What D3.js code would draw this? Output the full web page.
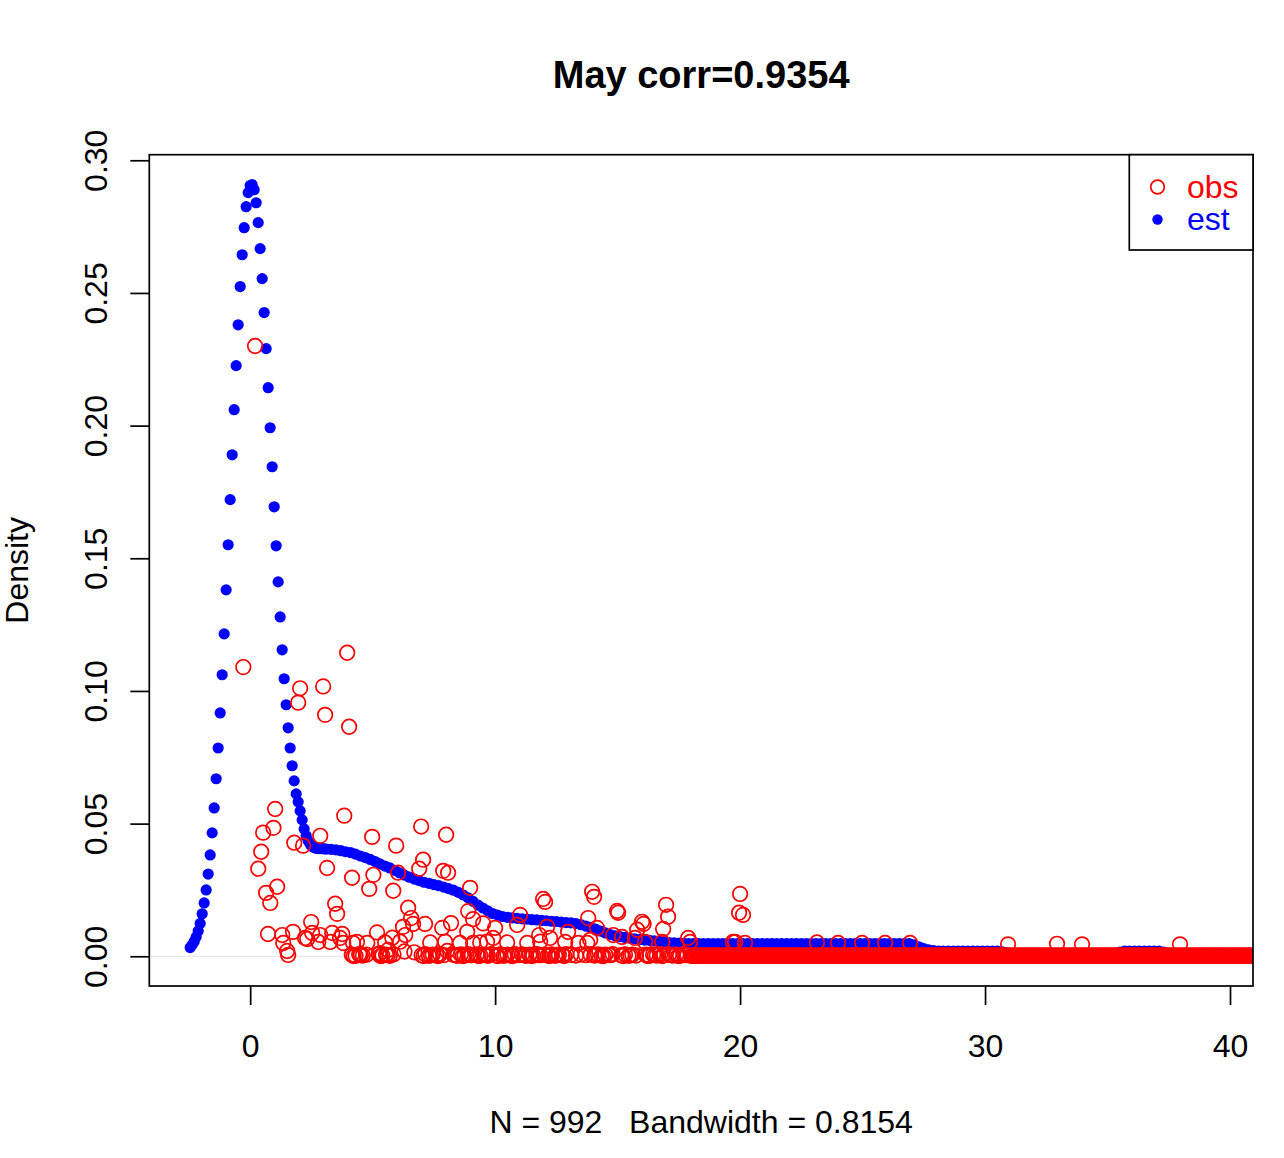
<!DOCTYPE html>
<html><head><meta charset="utf-8">
<script src="https://cdn.jsdelivr.net/npm/d3@7"></script>
<style>
body{margin:0;background:#fff}
svg{display:block}
text{font-family:"Liberation Sans",Arial,Helvetica,sans-serif}
</style>
</head><body>
<svg id="chart" width="1284" height="1158"></svg>
<script>
// ---------- text ----------
const titleText = "May corr=0.9354";
const xLabelText = "N = 992   Bandwidth = 0.8154";
const yLabelText = "Density";
const legendLabels = ["obs", "est"];
const xTicks = [0, 10, 20, 30, 40];
const yTicks = [0, 0.05, 0.10, 0.15, 0.20, 0.25, 0.30];

// ---------- est (density estimate, blue dots) ----------
const estX = [
 -2.449,-2.367,-2.286,-2.204,-2.122,-2.041,-1.959,-1.878,-1.796,-1.714,
 -1.633,-1.551,-1.469,-1.388,-1.306,-1.224,-1.143,-1.061,-0.980,-0.898,
 -0.816,-0.735,-0.653,-0.571,-0.490,-0.408,-0.327,-0.245,-0.163,-0.082,
  0.000, 0.082, 0.163, 0.245, 0.327, 0.408, 0.490, 0.571, 0.653, 0.735,
  0.816, 0.898, 0.980, 1.061, 1.143, 1.224, 1.306, 1.388, 1.469, 1.551,
  1.633, 1.714, 1.796, 1.878, 1.959, 2.041, 2.122, 2.204, 2.286, 2.367,
  2.449, 2.531, 2.612, 2.694, 2.776, 2.857, 2.939, 3.020, 3.102,
  3.3,3.5,3.7,3.9,4.1,4.3,4.5,4.7,4.9,5.1,
  5.3,5.5,5.7,5.9,6.1,6.3,6.5,6.7,6.9,7.1,
  7.3,7.5,7.7,7.9,8.1,8.3,8.5,8.7,8.9,9.1,
  9.3,9.5,9.7,9.9,10.1,10.3,10.5,10.7,10.9,11.1,
  11.3,11.5,11.7,11.9,12.1,12.3,12.5,12.7,12.9,13.1,
  13.3,13.5,13.7,13.9,14.1,14.3,14.5,14.7,14.9,15.1,
  15.3,15.5,15.7,15.9,16.1,16.3,16.5,16.7,16.9,17.1,
  17.3,17.5,17.7,17.9,18.1,18.3,18.5,18.7,18.9,19.1,
  19.3,19.5,19.7,19.9,20.1,20.3,20.5,20.7,20.9,21.1,
  21.3,21.5,21.7,21.9,22.1,22.3,22.5,22.7,22.9,23.1,
  23.3,23.5,23.7,23.9,24.1,24.3,24.5,24.7,24.9,25.1,
  25.3,25.5,25.7,25.9,26.1,26.3,26.5,26.7,26.9,27.1,
  27.3,27.5,27.7,27.9,28.1,28.3,28.5,28.7,28.9,29.1,
  29.3,29.5,29.7,29.9,30.1,30.3,30.5,30.7,30.9,31.1,
  31.3,31.5,31.7,31.9,32.1,32.3,32.5,32.7,32.9,33.1,
  33.3,33.5,33.7,33.9,34.1,34.3,34.5,34.7,34.9,35.1,
  35.3,35.5,35.7,35.9,36.1,36.3,36.5,36.7,36.9,37.1,
  37.3,37.5,37.7,37.9,38.1,38.3,38.5,38.7,38.9,39.1,
  39.3
];
const estY = [
 0.0033,0.0043,0.0056,0.0073,0.0095,0.0124,0.0160,0.0201,0.0250,0.0310,
 0.0382,0.0465,0.0559,0.0669,0.0785,0.0917,0.1061,0.1215,0.1381,0.1551,
 0.1721,0.1890,0.2060,0.2226,0.2380,0.2524,0.2644,0.2746,0.2825,0.2878,
 0.2905,0.2908,0.2889,0.2840,0.2765,0.2667,0.2554,0.2426,0.2290,0.2143,
 0.1992,0.1845,0.1694,0.1547,0.1411,0.1279,0.1155,0.1046,0.0948,0.0861,
 0.0785,0.0718,0.0661,0.0612,0.0582,0.0548,0.0514,0.0480,0.0454,0.0435,
 0.0422,0.0414,0.0410,0.0407,0.0406,0.0406,0.0406,0.0405,0.0404,
 0.0403,0.0401,0.0398,0.0394,0.0391,0.0385,0.0378,0.0372,0.0365,0.0357,
 0.0348,0.0340,0.0333,0.0324,0.0314,0.0306,0.0298,0.0291,0.0285,0.0279,
 0.0275,0.0270,0.0266,0.0261,0.0255,0.0249,0.0241,0.0231,0.0220,0.0207,
 0.0193,0.0182,0.0171,0.0161,0.0155,0.0150,0.0147,0.0145,0.0143,0.0141,
 0.0140,0.0138,0.0137,0.0135,0.0134,0.0132,0.0131,0.0129,0.0127,0.0126,
 0.0123,0.0119,0.0114,0.0109,0.0102,0.0095,0.0088,0.0082,0.0077,0.0074,
 0.0071,0.0068,0.0066,0.0063,0.0061,0.0060,0.0058,0.0056,0.0054,0.0052,
 0.0051,0.0050,0.0049,0.0048,0.0048,0.0048,0.0048,0.0048,0.0048,0.0048,
 0.0048,0.0048,0.0048,0.0048,0.0048,0.0048,0.0048,0.0048,0.0048,0.0048,
 0.0048,0.0048,0.0048,0.0048,0.0048,0.0048,0.0048,0.0048,0.0048,0.0048,
 0.0048,0.0048,0.0048,0.0048,0.0048,0.0048,0.0048,0.0048,0.0048,0.0048,
 0.0048,0.0048,0.0048,0.0048,0.0048,0.0048,0.0048,0.0048,0.0048,0.0043,
 0.0036,0.0029,0.0024,0.0021,0.0020,0.0020,0.0020,0.0020,0.0020,0.0020,
 0.0020,0.0020,0.0020,0.0020,0.0020,0.0020,0.0020,0.0017,0.0013,0.0010,
 0.0008,0.0008,0.0008,0.0008,0.0008,0.0008,0.0008,0.0008,0.0008,0.0008,
 0.0008,0.0008,0.0008,0.0008,0.0008,0.0008,0.0008,0.0008,0.0008,0.0008,
 0.0011,0.0016,0.0020,0.0020,0.0020,0.0020,0.0020,0.0020,0.0020,0.0020,
 0.0016,0.0011,0.0007,0.0007,0.0007,0.0007,0.0007,0.0007,0.0007,0.0006,
 0.0005
];

// ---------- obs (observed, red circles) ----------
const obsX = [
 -0.28, 0.20, 3.96, 2.04, 2.98, 1.96, 3.06, 4.04, 1.02, 3.84,
  0.53, 0.95, 1.80, 2.16, 2.86, 4.98, 0.45, 0.33, 3.14, 4.16,
  5.03, 4.86, 0.65, 1.10, 0.82, 3.47, 3.55, 0.73, 1.31, 1.75,
  2.49, 2.53, 2.33, 2.86, 3.35, 3.76, 1.35, 1.51, 1.55, 4.20,
  4.78, 5.18, 5.63, 5.96, 6.98, 8.00, 6.04, 7.06, 6.90, 7.88,
  8.08, 5.84, 8.98, 6.45, 8.90, 9.10, 6.57, 6.65, 6.24, 7.14,
  8.20, 7.84, 11.96, 12.04, 13.96, 14.04, 14.98, 15.02, 16.00, 16.06,
  16.98, 17.06, 16.86, 20.00, 19.96, 20.12, 11.02, 10.90, 10.00, 9.92,
  12.12, 11.80, 12.98, 13.80, 14.16, 13.88, 14.82, 15.80, 17.96, 19.80,
  20.20, 23.14, 24.00, 24.98, 25.92, 26.94, 30.94, 32.94, 33.96, 37.96,
  4.36, 5.80, 6.33, 8.86, 3.80, 5.51, 6.12, 7.35, 7.96, 8.57,
  9.39, 9.67, 10.49, 11.31, 11.84, 2.24, 2.78, 3.27, 3.67, 12.24,
  12.86, 13.40, 13.76, 15.18, 15.71, 16.12, 16.82, 17.88, 19.71, 9.51,
  9.10
];
const obsY = [
 0.1090,0.2300,0.1144,0.1010,0.1017,0.0956,0.0910,0.0865,0.0555,0.0530,
 0.0466,0.0484,0.0428,0.0417,0.0454,0.0450,0.0394,0.0330,0.0333,0.0296,
 0.0307,0.0254,0.0239,0.0262,0.0201,0.0198,0.0160,0.0084,0.0080,0.0092,
 0.0129,0.0088,0.0065,0.0080,0.0088,0.0084,0.0050,0.0020,0.0005,0.0050,
 0.0050,0.0090,0.0024,0.0417,0.0489,0.0458,0.0315,0.0364,0.0330,0.0322,
 0.0315,0.0247,0.0258,0.0183,0.0170,0.0140,0.0144,0.0122,0.0111,0.0122,
 0.0125,0.0107,0.0216,0.0205,0.0243,0.0224,0.0171,0.0164,0.0130,0.0122,
 0.0194,0.0149,0.0103,0.0235,0.0164,0.0156,0.0156,0.0118,0.0107,0.0069,
 0.0111,0.0080,0.0092,0.0144,0.0107,0.0062,0.0080,0.0100,0.0054,0.0054,
 0.0050,0.0052,0.0050,0.0050,0.0050,0.0050,0.0045,0.0047,0.0045,0.0045,
 0.0054,0.0070,0.0080,0.0092,0.0050,0.0052,0.0055,0.0052,0.0055,0.0050,
 0.0052,0.0055,0.0052,0.0050,0.0055,0.0069,0.0054,0.0054,0.0069,0.0069,
 0.0054,0.0050,0.0050,0.0073,0.0069,0.0054,0.0054,0.0069,0.0054,0.0124,
 0.0050
];
// near-zero observations along the baseline (clusters 4-18)
const obsZeroX = [
 4.49,4.15,4.30,4.45,4.60,4.75,5.25,5.40,5.55,5.70,
 5.85,5.31,6.30,6.70,7.00,7.15,7.30,7.45,7.60,7.75,
 7.90,8.05,8.30,8.45,8.60,8.75,8.90,9.05,9.25,9.40,
 9.55,9.70,9.85,10.05,10.20,10.35,10.50,10.65,10.80,10.95,
 11.10,11.25,11.40,11.55,11.70,11.85,12.00,12.15,12.30,12.45,
 12.60,12.75,12.90,13.10,13.30,13.50,13.70,13.90,14.05,14.20,
 14.35,14.50,14.65,14.80,15.15,15.30,15.45,15.60,15.75,16.15,
 16.30,16.45,16.60,16.75,16.90,17.10,17.25,17.40,17.55,17.70,
 17.85,
 4.22,4.52,5.33,5.62,7.08,7.38,7.68,8.38,8.68,8.98,
 9.32,9.62,10.12,10.42,10.72,11.18,11.48,11.78,12.22,12.52,
 12.82,14.12,14.42,14.72,15.22,15.52,16.22,16.52,16.82,17.18,
 17.48,17.78
];
const obsZeroY = [
 0.0005,0.0006,0.0002,0.0008,0.0003,0.0006,0.0008,0.0003,0.0006,0.0002,
 0.0007,0.0012,0.0018,0.0015,0.0004,0.0008,0.0002,0.0006,0.0003,0.0008,
 0.0004,0.0020,0.0006,0.0002,0.0007,0.0003,0.0008,0.0004,0.0007,0.0003,
 0.0006,0.0002,0.0008,0.0003,0.0007,0.0002,0.0006,0.0003,0.0008,0.0004,
 0.0007,0.0002,0.0006,0.0003,0.0008,0.0004,0.0006,0.0003,0.0007,0.0002,
 0.0006,0.0004,0.0008,0.0005,0.0003,0.0007,0.0004,0.0006,0.0003,0.0007,
 0.0002,0.0006,0.0004,0.0008,0.0004,0.0007,0.0002,0.0006,0.0003,0.0006,
 0.0002,0.0007,0.0003,0.0008,0.0004,0.0007,0.0003,0.0006,0.0002,0.0008,
 0.0004,
 0.0001,0.0004,0.0001,0.0004,0.0001,0.0004,0.0001,0.0004,0.0001,0.0004,
 0.0001,0.0004,0.0001,0.0004,0.0001,0.0004,0.0001,0.0004,0.0001,0.0004,
 0.0001,0.0004,0.0001,0.0004,0.0001,0.0004,0.0001,0.0004,0.0001,0.0004,
 0.0001,0.0004
];
// dense near-zero tail of observations (18 onward)
const obsTailX = [
 18.00,18.05,18.10,18.15,18.20,18.25,18.30,18.35,18.40,18.45,18.50,18.55,18.60,18.65,18.70,18.75,18.80,18.85,18.90,18.95,
 19.00,19.05,19.10,19.15,19.20,19.25,19.30,19.35,19.40,19.45,19.50,19.55,19.60,19.65,19.70,19.75,19.80,19.85,19.90,19.95,
 20.00,20.05,20.10,20.15,20.20,20.25,20.30,20.35,20.40,20.45,20.50,20.55,20.60,20.65,20.70,20.75,20.80,20.85,20.90,20.95,
 21.00,21.05,21.10,21.15,21.20,21.25,21.30,21.35,21.40,21.45,21.50,21.55,21.60,21.65,21.70,21.75,21.80,21.85,21.90,21.95,
 22.00,22.05,22.10,22.15,22.20,22.25,22.30,22.35,22.40,22.45,22.50,22.55,22.60,22.65,22.70,22.75,22.80,22.85,22.90,22.95,
 23.00,23.05,23.10,23.15,23.20,23.25,23.30,23.35,23.40,23.45,23.50,23.55,23.60,23.65,23.70,23.75,23.80,23.85,23.90,23.95,
 24.00,24.05,24.10,24.15,24.20,24.25,24.30,24.35,24.40,24.45,24.50,24.55,24.60,24.65,24.70,24.75,24.80,24.85,24.90,24.95,
 25.00,25.05,25.10,25.15,25.20,25.25,25.30,25.35,25.40,25.45,25.50,25.55,25.60,25.65,25.70,25.75,25.80,25.85,25.90,25.95,
 26.00,26.05,26.10,26.15,26.20,26.25,26.30,26.35,26.40,26.45,26.50,26.55,26.60,26.65,26.70,26.75,26.80,26.85,26.90,26.95,
 27.00,27.05,27.10,27.15,27.20,27.25,27.30,27.35,27.40,27.45,27.50,27.55,27.60,27.65,27.70,27.75,27.80,27.85,27.90,27.95,
 28.00,28.05,28.10,28.15,28.20,28.25,28.30,28.35,28.40,28.45,28.50,28.55,28.60,28.65,28.70,28.75,28.80,28.85,28.90,28.95,
 29.00,29.05,29.10,29.15,29.20,29.25,29.30,29.35,29.40,29.45,29.50,29.55,29.60,29.65,29.70,29.75,29.80,29.85,29.90,29.95,
 30.00,30.05,30.10,30.15,30.20,30.25,30.30,30.35,30.40,30.45,30.50,30.55,30.60,30.65,30.70,30.75,30.80,30.85,30.90,30.95,
 31.00,31.05,31.10,31.15,31.20,31.25,31.30,31.35,31.40,31.45,31.50,31.55,31.60,31.65,31.70,31.75,31.80,31.85,31.90,31.95,
 32.00,32.05,32.10,32.15,32.20,32.25,32.30,32.35,32.40,32.45,32.50,32.55,32.60,32.65,32.70,32.75,32.80,32.85,32.90,32.95,
 33.00,33.05,33.10,33.15,33.20,33.25,33.30,33.35,33.40,33.45,33.50,33.55,33.60,33.65,33.70,33.75,33.80,33.85,33.90,33.95,
 34.00,34.05,34.10,34.15,34.20,34.25,34.30,34.35,34.40,34.45,34.50,34.55,34.60,34.65,34.70,34.75,34.80,34.85,34.90,34.95,
 35.00,35.05,35.10,35.15,35.20,35.25,35.30,35.35,35.40,35.45,35.50,35.55,35.60,35.65,35.70,35.75,35.80,35.85,35.90,35.95,
 36.00,36.05,36.10,36.15,36.20,36.25,36.30,36.35,36.40,36.45,36.50,36.55,36.60,36.65,36.70,36.75,36.80,36.85,36.90,36.95,
 37.00,37.05,37.10,37.15,37.20,37.25,37.30,37.35,37.40,37.45,37.50,37.55,37.60,37.65,37.70,37.75,37.80,37.85,37.90,37.95,
 38.00,38.05,38.10,38.15,38.20,38.25,38.30,38.35,38.40,38.45,38.50,38.55,38.60,38.65,38.70,38.75,38.80,38.85,38.90,38.95,
 39.00,39.05,39.10,39.15,39.20,39.25,39.30,39.35,39.40,39.45,39.50,39.55,39.60,39.65,39.70,39.75,39.80,39.85,39.90,39.95,
 40.00,40.05,40.10,40.15,40.20,40.25,40.30,40.35,40.40,40.45,40.50,40.55,40.60,40.65,40.70,40.75,40.80,40.85,40.90,40.95,
 41.00,41.05,41.10,41.15,41.20
];
// every tail observation sits at essentially zero density
const obsTailDensity = 0.0002;

// ---------- layout ----------
const W = 1284, H = 1158;
const plot = {left: 149.3, top: 154.7, right: 1253, bottom: 986};
const xDomain = [-4.118, 40.939];
const yDomain = [-0.0112, 0.3021];
const FONT = 32;

const svg = d3.select("#chart");
svg.append("rect").attr("width", W).attr("height", H).attr("fill", "#fff");

const x = d3.scaleLinear().domain(xDomain).range([plot.left, plot.right]);
const y = d3.scaleLinear().domain(yDomain).range([plot.bottom, plot.top]);

svg.append("defs").append("clipPath").attr("id", "plotclip")
  .append("rect").attr("x", plot.left).attr("y", plot.top)
  .attr("width", plot.right - plot.left).attr("height", plot.bottom - plot.top);

const gPlot = svg.append("g").attr("clip-path", "url(#plotclip)");

// est dots
const estData = d3.zip(estX, estY);
gPlot.append("g").selectAll("circle").data(estData).join("circle")
  .attr("cx", d => x(d[0])).attr("cy", d => y(d[1])).attr("r", 5.6)
  .attr("fill", "#0000ff");

// zero line
gPlot.append("line")
  .attr("x1", plot.left).attr("x2", plot.right)
  .attr("y1", y(0)).attr("y2", y(0))
  .attr("stroke", "#e2e2e2").attr("stroke-width", 1);

// obs circles
const obsData = obsTailX.map(v => [v, obsTailDensity])
  .concat(d3.zip(obsZeroX, obsZeroY))
  .concat(d3.zip(obsX, obsY));
gPlot.append("g").selectAll("circle").data(obsData).join("circle")
  .attr("cx", d => x(d[0])).attr("cy", d => y(d[1])).attr("r", 7.3)
  .attr("fill", "none").attr("stroke", "#ff0000").attr("stroke-width", 1.7);

// box
svg.append("rect")
  .attr("x", plot.left).attr("y", plot.top)
  .attr("width", plot.right - plot.left).attr("height", plot.bottom - plot.top)
  .attr("fill", "none").attr("stroke", "#000").attr("stroke-width", 1.7);

// x axis
const xAxis = d3.axisBottom(x).tickValues(xTicks).tickSize(19).tickSizeOuter(0)
  .tickPadding(29).tickFormat(d3.format("d"));
const gx = svg.append("g").attr("transform", `translate(0,${plot.bottom})`).call(xAxis);
gx.select(".domain").remove();
gx.selectAll(".tick line").attr("stroke", "#000").attr("stroke-width", 1.7);
gx.selectAll(".tick text").attr("fill", "#000").style("font-size", FONT + "px")
  .style("font-family", '"Liberation Sans",Arial,sans-serif');

// y axis
const yAxis = d3.axisLeft(y).tickValues(yTicks).tickSize(19).tickSizeOuter(0)
  .tickFormat(d3.format(".2f"));
const gy = svg.append("g").attr("transform", `translate(${plot.left},0)`).call(yAxis);
gy.select(".domain").remove();
gy.selectAll(".tick line").attr("stroke", "#000").attr("stroke-width", 1.7);
gy.selectAll(".tick text")
  .attr("x", 0).attr("y", 0).attr("dy", 0)
  .attr("transform", "translate(-42,0) rotate(-90)")
  .attr("text-anchor", "middle").attr("fill", "#000")
  .style("font-size", FONT + "px")
  .style("font-family", '"Liberation Sans",Arial,sans-serif');

// title
svg.append("text").attr("x", (plot.left + plot.right) / 2).attr("y", 88)
  .attr("text-anchor", "middle").style("font-size", "38px").style("font-weight", "bold")
  .text(titleText);

// x label
svg.append("text").attr("x", (plot.left + plot.right) / 2).attr("y", 1133)
  .attr("text-anchor", "middle").style("font-size", FONT + "px")
  .style("white-space", "pre").attr("xml:space", "preserve")
  .text(xLabelText);

// y label
svg.append("text")
  .attr("transform", `translate(28,${(plot.top + plot.bottom) / 2}) rotate(-90)`)
  .attr("text-anchor", "middle").style("font-size", FONT + "px")
  .text(yLabelText);

// legend
const leg = {left: 1129.3, top: plot.top, right: plot.right, bottom: 250};
svg.append("rect").attr("x", leg.left).attr("y", leg.top)
  .attr("width", leg.right - leg.left).attr("height", leg.bottom - leg.top)
  .attr("fill", "#fff").attr("stroke", "#000").attr("stroke-width", 1.7);
const legColors = ["#ff0000", "#0000ff"];
const legY = [187, 219.5];
legendLabels.forEach((lab, i) => {
  if (i === 0) {
    svg.append("circle").attr("cx", 1157.5).attr("cy", legY[i]).attr("r", 6.8)
      .attr("fill", "none").attr("stroke", legColors[i]).attr("stroke-width", 1.7);
  } else {
    svg.append("circle").attr("cx", 1157.5).attr("cy", legY[i]).attr("r", 5.2)
      .attr("fill", legColors[i]);
  }
  svg.append("text").attr("x", 1187).attr("y", legY[i] + 10.5)
    .style("font-size", FONT + "px").attr("fill", legColors[i]).text(lab);
});
</script>
</body></html>
